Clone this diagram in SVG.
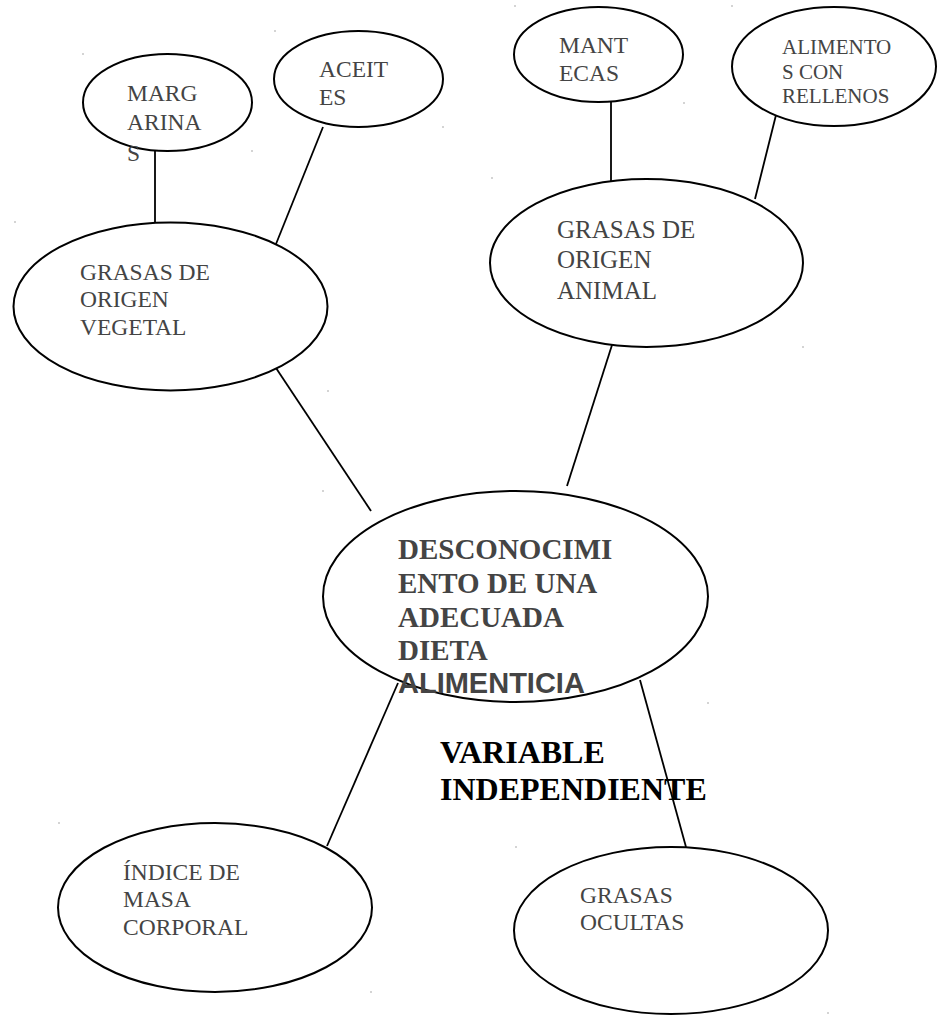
<svg xmlns="http://www.w3.org/2000/svg" width="938" height="1015" viewBox="0 0 938 1015">
<style>
.bg{fill:#ffffff}
.node ellipse{fill:#ffffff;stroke:#000000;stroke-width:2}
.conn line{stroke:#000000;stroke-width:1.8}
.t{font-family:"Liberation Serif","Times New Roman",serif;fill:#444444}
.tb{font-family:"Liberation Serif","Times New Roman",serif;font-weight:bold;fill:#444444}
.ts{font-family:"Liberation Sans",Arial,sans-serif;font-weight:bold;fill:#444444}
.tk{font-family:"Liberation Serif","Times New Roman",serif;font-weight:bold;fill:#000000}
.speck{fill:#555555}
</style>
<rect class="bg" x="0" y="0" width="938" height="1015"/>
<g id="connectors" class="conn">
<line x1="155" y1="151" x2="155" y2="223"/>
<line x1="323" y1="127" x2="276" y2="244"/>
<line x1="611" y1="102" x2="611" y2="198"/>
<line x1="779" y1="103" x2="755" y2="199"/>
<line x1="276" y1="368" x2="371" y2="511"/>
<line x1="612" y1="345" x2="567" y2="486"/>
<line x1="398" y1="683" x2="327" y2="846"/>
<line x1="640" y1="680" x2="686" y2="847"/>
</g>
<g id="margarinas" class="node">
<ellipse cx="167.5" cy="102.5" rx="84.5" ry="48.5"/>
<text class="t" font-size="23.5" x="127" y="101">MARG</text>
<text class="t" font-size="23.5" x="127" y="129.5">ARINA</text>
<text class="t" font-size="23.5" x="127" y="161">S</text>
</g>
<g id="aceites" class="node">
<ellipse cx="358.5" cy="79" rx="84.5" ry="48"/>
<text class="t" font-size="23.5" x="319" y="77">ACEIT</text>
<text class="t" font-size="23.5" x="319" y="105">ES</text>
</g>
<g id="mantecas" class="node">
<ellipse cx="598.5" cy="54.5" rx="84.5" ry="47.5"/>
<text class="t" font-size="23.5" x="559" y="53">MANT</text>
<text class="t" font-size="23.5" x="559" y="81">ECAS</text>
</g>
<g id="alimentos" class="node">
<ellipse cx="834" cy="66.5" rx="102" ry="59.5"/>
<text class="t" font-size="21" x="782" y="54">ALIMENTO</text>
<text class="t" font-size="21" x="782" y="79">S CON</text>
<text class="t" font-size="21" x="782" y="103">RELLENOS</text>
</g>
<g id="vegetal" class="node">
<ellipse cx="170.5" cy="306.5" rx="157" ry="84"/>
<text class="t" font-size="23.5" x="80" y="280">GRASAS DE</text>
<text class="t" font-size="23.5" x="80" y="307">ORIGEN</text>
<text class="t" font-size="23.5" x="80" y="334.5">VEGETAL</text>
</g>
<g id="animal" class="node">
<ellipse cx="646.5" cy="263" rx="156.5" ry="84"/>
<text class="t" font-size="25" x="557" y="237.5">GRASAS DE</text>
<text class="t" font-size="25" x="557" y="268">ORIGEN</text>
<text class="t" font-size="25" x="557" y="299">ANIMAL</text>
</g>
<g id="centro" class="node">
<ellipse cx="515.5" cy="596.5" rx="192.5" ry="105.5"/>
<text class="tb" font-size="29" x="398" y="559">DESCONOCIMI</text>
<text class="tb" font-size="29" x="398" y="593">ENTO DE UNA</text>
<text class="tb" font-size="29" x="398" y="627">ADECUADA</text>
<text class="tb" font-size="29" x="398" y="660">DIETA</text>
<text class="ts" font-size="29" x="398" y="693">ALIMENTICIA</text>
</g>
<g id="etiqueta">
<text class="tk" font-size="32" x="440" y="763">VARIABLE</text>
<text class="tk" font-size="32" x="440" y="800">INDEPENDIENTE</text>
</g>
<g id="imc" class="node">
<ellipse cx="215" cy="907.5" rx="157" ry="84.5"/>
<text class="t" font-size="23.5" x="123" y="880">ÍNDICE DE</text>
<text class="t" font-size="23.5" x="123" y="907">MASA</text>
<text class="t" font-size="23.5" x="123" y="935">CORPORAL</text>
</g>
<g id="ocultas" class="node">
<ellipse cx="671" cy="930.5" rx="157" ry="83.5"/>
<text class="t" font-size="23.5" x="580" y="903">GRASAS</text>
<text class="t" font-size="23.5" x="580" y="930">OCULTAS</text>
</g>
<g id="specks" class="speck">
<rect x="82.5" y="53.5" width="1" height="1"/>
<rect x="251.5" y="150.5" width="1" height="1"/>
<rect x="274.5" y="30.5" width="1" height="1"/>
<rect x="442.5" y="126.5" width="1" height="1"/>
<rect x="514.5" y="5.5" width="1" height="1"/>
<rect x="683.5" y="102.5" width="1" height="1"/>
<rect x="731.5" y="5.5" width="1" height="1"/>
<rect x="491.5" y="177.5" width="1" height="1"/>
<rect x="802.5" y="346.5" width="1" height="1"/>
<rect x="14.5" y="221.5" width="1" height="1"/>
<rect x="327.5" y="390.5" width="1" height="1"/>
<rect x="322.5" y="490.5" width="1" height="1"/>
<rect x="707.5" y="702.5" width="1" height="1"/>
<rect x="58.5" y="822.5" width="1" height="1"/>
<rect x="370.5" y="991.5" width="1" height="1"/>
<rect x="515.5" y="846.5" width="1" height="1"/>
<rect x="827.5" y="1012.5" width="1" height="1"/>
</g>
</svg>
